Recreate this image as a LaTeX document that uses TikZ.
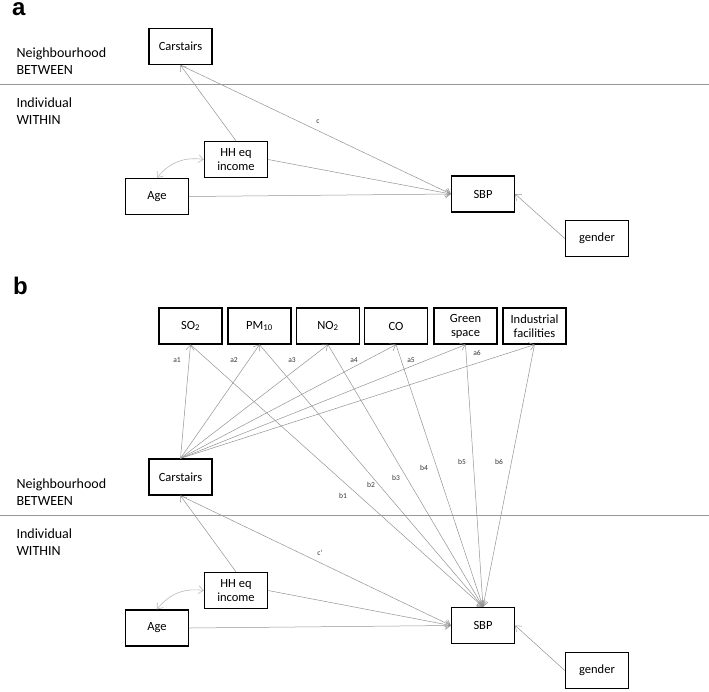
\documentclass[tikz,border=0pt]{standalone}
\usepackage{fontspec}
\setmainfont{Carlito}
\newfontfamily\panelfont{Liberation Sans}
\usetikzlibrary{arrows.meta}
\tikzset{
  box/.style={draw,line width=1.3pt,minimum width=63pt,minimum height=36pt,
    align=center,inner sep=1pt,font=\fontsize{12.5}{14}\selectfont},
  side/.style={anchor=west,align=left,font=\fontsize{14}{17}\selectfont},
  path/.style={draw=gray!85,line width=0.5pt,-{Straight Barb[length=5pt,width=8pt]}},
  cov/.style={draw=gray!55,line width=0.6pt,{Straight Barb[length=5pt,width=8pt]}-{Straight Barb[length=5pt,width=8pt]}},
  coef/.style={font=\fontsize{7.5}{8}\selectfont,text=black!80,inner sep=0pt},
  panel/.style={anchor=north west,inner sep=0pt,font=\panelfont\bfseries\fontsize{24}{24}\selectfont}
}
\begin{document}
\begin{tikzpicture}[x=1pt,y=-1pt]
  \useasboundingbox (0,0) rectangle (709,691);
  % panel a
  \node[panel] (pa) at (12,2) {a};
  \node[side] (nba) at (13,61) {Neighbourhood\\BETWEEN};
  \node[side] (iwa) at (13,111) {Individual\\WITHIN};
  \draw[gray!80,line width=0.6pt] (0,84)--(709,84);
  \node[box] (ca) at (180.5,46.5) {Carstairs};
  \node[box] (hha) at (236,159.5) {HH eq\\income};
  \node[box] (agea) at (157,196.5) {Age};
  \node[box] (sbpa) at (483,194) {SBP};
  \node[box] (gena) at (597,238.5) {gender};
  \draw[path] (hha.north) -- (ca.south);
  \draw[path] (ca.south) -- (sbpa.west);
  \draw[path] (hha.east) -- (sbpa.west);
  \draw[path] (agea.east) -- (sbpa.west);
  \draw[path] (gena.west) -- (sbpa.east);
  \draw[cov] (agea.north) to[bend left=30] (hha.west);
  \node[coef] (lc) at (318,122) {c};
  % panel b
  \node[panel] (pb) at (13,277) {b};
  \node[side] (nbb) at (13,492) {Neighbourhood\\BETWEEN};
  \node[side] (iwb) at (13,542) {Individual\\WITHIN};
  \draw[gray!80,line width=0.6pt] (0,515)--(709,515);
  \node[box] (cb) at (180.5,477) {Carstairs};
  \node[box] (hhb) at (236,590.5) {HH eq\\income};
  \node[box] (ageb) at (157,628) {Age};
  \node[box] (sbpb) at (483,625.5) {SBP};
  \node[box] (genb) at (597,670.5) {gender};
  \foreach \i/\x/\t in {1/190.5/SO\textsubscript{2},2/259.5/PM\textsubscript{10},
      3/328/NO\textsubscript{2},4/396/CO,5/465.5/Green\\space,6/534.5/Industrial\\facilities}
  {
    \node[box] (m\i) at (\x,326) {\t};
    \draw[path] (cb.north) -- (m\i.south);
    \draw[path] (m\i.south) -- (sbpb.north);
  }
  \foreach \i/\x/\y in {1/177/360,2/234/360,3/292/360,4/354/360,5/411/360,6/477/353}
    \node[coef] (la\i) at (\x,\y) {a\i};
  \foreach \i/\x/\y in {1/343/496,2/371/485,3/396/478,4/424/468,5/462/462,6/499/462}
    \node[coef] (lb\i) at (\x,\y) {b\i};
  \draw[path] (hhb.north) -- (cb.south);
  \draw[path] (cb.south) -- (sbpb.west);
  \draw[path] (hhb.east) -- (sbpb.west);
  \draw[path] (ageb.east) -- (sbpb.west);
  \draw[path] (genb.west) -- (sbpb.east);
  \draw[cov] (ageb.north) to[bend left=30] (hhb.west);
  \node[coef] (lcp) at (320,553) {c'};
\end{tikzpicture}
\end{document}
